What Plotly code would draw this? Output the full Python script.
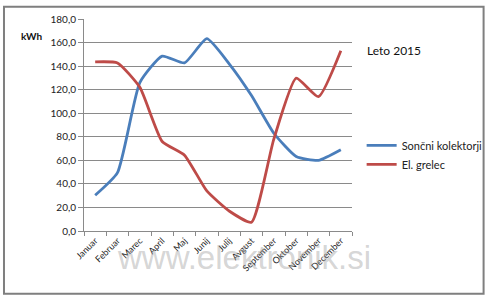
import plotly.graph_objects as go

months = ["Januar", "Februar", "Marec", "April", "Maj", "Junij", "Julij",
          "Avgust", "September", "Oktober", "November", "December"]
solar = [30.4, 49.6, 126.0, 148.5, 142.7, 163.3, 142.0, 115.0, 83.0, 63.3, 60.0, 69.0]
heater = [143.6, 142.7, 122.0, 76.0, 64.4, 34.0, 17.0, 7.5, 78.0, 129.8, 114.0, 153.0]
ytick_vals = [0, 20, 40, 60, 80, 100, 120, 140, 160, 180]

W, H = 500, 297
L, R, T, B = 84, 362, 13, 231

def px(x):
    return (x - L) / (R - L)

def py(y):
    return (B - y) / (B - T)

fnt = "Lato, 'Open Sans', sans-serif"

fig = go.Figure()
fig.add_trace(go.Scatter(x=months, y=solar, mode="lines", name="Sončni kolektorji",
                         line=dict(color="#4A7EBB", width=2.8, shape="spline", smoothing=0.5)))
fig.add_trace(go.Scatter(x=months, y=heater, mode="lines", name="El. grelec",
                         line=dict(color="#BE4B48", width=2.8, shape="spline", smoothing=0.5)))

fig.update_layout(
    width=W, height=H,
    margin=dict(l=L, r=W - R, t=T, b=H - B),
    paper_bgcolor="white", plot_bgcolor="white",
    separators=", ",
    font=dict(family=fnt, size=10, color="#222"),
    showlegend=True,
    legend=dict(x=px(372), y=py(128), xanchor="left", yanchor="top",
                bgcolor="rgba(0,0,0,0)", font=dict(size=11, color="#222"),
                tracegroupgap=0, itemwidth=30),
)
fig.update_yaxes(range=[0, 180], tickvals=ytick_vals, tickformat=".1f",
                 showgrid=True, gridcolor="#8a8a8a", gridwidth=1,
                 showline=True, linecolor="#8a8a8a", linewidth=1,
                 ticks="outside", ticklen=5, tickcolor="#8a8a8a",
                 zeroline=False, tickfont=dict(size=10, color="#222"))
fig.update_xaxes(type="category", range=[-0.5, 11.5], tickangle=-45,
                 tickson="boundaries", ticks="outside", ticklen=4, tickcolor="#8a8a8a",
                 showline=True, linecolor="#8a8a8a", linewidth=1,
                 showgrid=False, tickfont=dict(size=9, color="#222"))

fig.add_annotation(text="Leto 2015", xref="paper", yref="paper", x=px(376), y=py(45),
                   xanchor="left", yanchor="middle", showarrow=False,
                   font=dict(size=12, color="#111"))
fig.add_annotation(text="<b>kWh</b>", xref="paper", yref="paper", x=px(17), y=py(30),
                   xanchor="left", yanchor="middle", showarrow=False,
                   font=dict(size=10, color="#111"))
fig.add_annotation(text="www.elektronik.si", xref="paper", yref="paper", x=px(250), y=py(258),
                   xanchor="center", yanchor="middle", showarrow=False,
                   font=dict(family="'Liberation Sans Narrow', 'Liberation Sans', sans-serif",
                             size=33, color="rgba(150,150,150,0.4)"))
fig.add_shape(type="rect", xref="paper", yref="paper",
              x0=px(1), x1=px(498.5), y0=py(295.5), y1=py(0.5),
              line=dict(color="#7f7f7f", width=2), layer="above")

fig.write_html("out.html")
